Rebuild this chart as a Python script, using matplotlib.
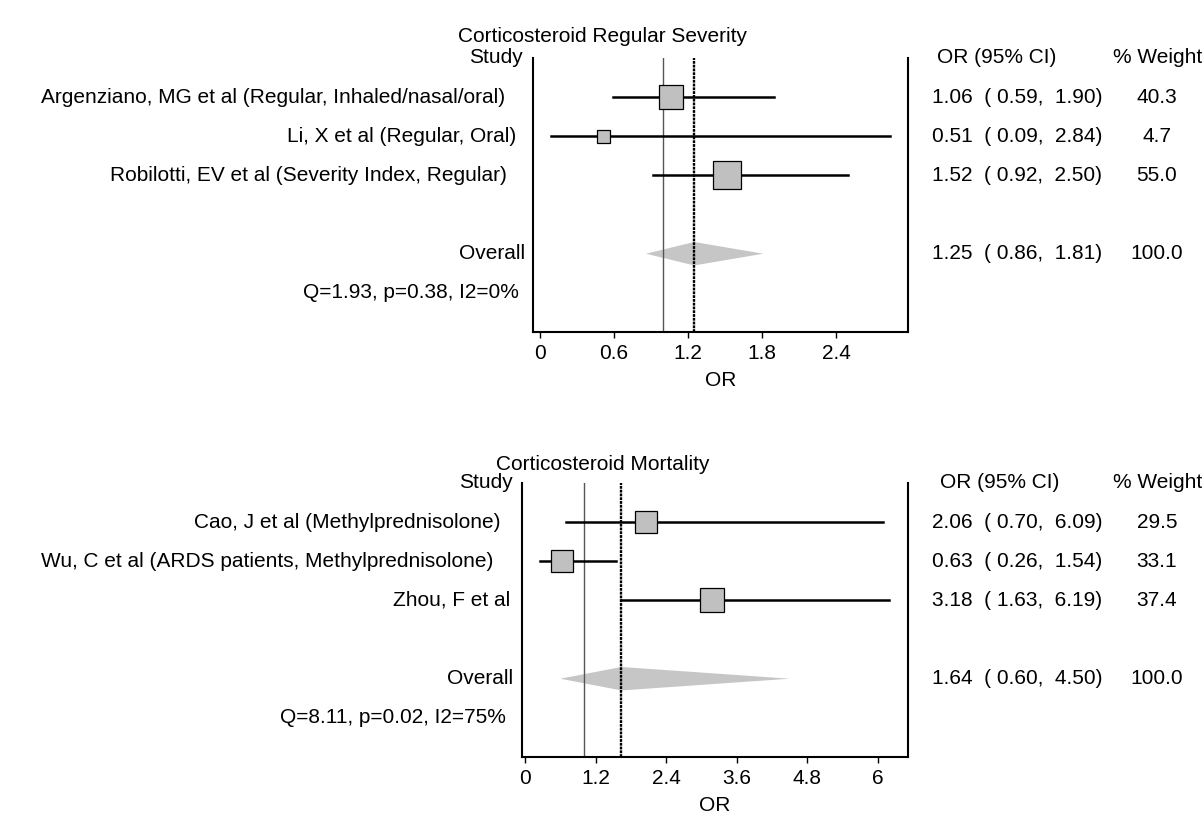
import numpy as np
import matplotlib
matplotlib.use("Agg")
import matplotlib.pyplot as plt
from matplotlib.transforms import blended_transform_factory

plt.rcParams['font.family'] = ['Liberation Sans', 'DejaVu Sans']

## data ##

# corticosteroid regular severity
sev_title = "Corticosteroid Regular Severity"
sev_studies = ["Argenziano, MG et al (Regular, Inhaled/nasal/oral)",
               "Li, X et al (Regular, Oral)",
               "Robilotti, EV et al (Severity Index, Regular)"]
sev_or = [1.06, 0.51, 1.52]
sev_lo = [0.59, 0.09, 0.92]
sev_hi = [1.90, 2.84, 2.50]
sev_wt = [40.3, 4.7, 55.0]
sev_pool = [1.25, 0.86, 1.81]
sev_het = "Q=1.93, p=0.38, I2=0%"
sev_ticks = [0, 0.6, 1.2, 1.8, 2.4]
sev_ticklabels = ["0", "0.6", "1.2", "1.8", "2.4"]

# corticosteroid mortality
mor_title = "Corticosteroid Mortality"
mor_studies = ["Cao, J et al (Methylprednisolone)",
               "Wu, C et al (ARDS patients, Methylprednisolone)",
               "Zhou, F et al"]
mor_or = [2.06, 0.63, 3.18]
mor_lo = [0.70, 0.26, 1.63]
mor_hi = [6.09, 1.54, 6.19]
mor_wt = [29.5, 33.1, 37.4]
mor_pool = [1.64, 0.60, 4.50]
mor_het = "Q=8.11, p=0.02, I2=75%"
mor_ticks = [0, 1.2, 2.4, 3.6, 4.8, 6]
mor_ticklabels = ["0", "1.2", "2.4", "3.6", "4.8", "6"]

W, H = 1202, 827
FS = 15

fig = plt.figure(figsize=(W / 100, H / 100), dpi=100)


def px(x, y):
    return x / W, 1 - y / H


def panel(rect, xlim, title, title_xy, studies, ors, los, his, wts, pool, het,
          ticks, ticklabels, label_ends, col_or_x):
    l, t, r, b = rect
    ax = fig.add_axes([l / W, 1 - b / H, (r - l) / W, (b - t) / H])
    ax.set_xlim(xlim)
    ax.set_ylim(7, 0)
    ax.spines['top'].set_visible(False)
    for s in ['left', 'right', 'bottom']:
        ax.spines[s].set_linewidth(1.5)
    ax.set_yticks([])
    ax.set_xticks(ticks)
    ax.set_xticklabels(ticklabels, fontsize=FS)
    ax.tick_params(axis='x', direction='out', length=4, width=1, pad=4.5)
    ax.set_xlabel("OR", fontsize=FS, labelpad=6)

    nrow = len(studies)
    rows = np.arange(1, nrow + 1)
    pool_row = nrow + 2
    het_row = nrow + 3

    # pooled diamond
    est, plo, phi = pool
    ax.fill([plo, est, phi, est], [pool_row, pool_row - 0.3, pool_row, pool_row + 0.3],
            color='#c6c6c6', lw=0, zorder=1)

    # null and pooled lines
    ax.axvline(1, color='#555555', lw=1, zorder=2)
    ax.axvline(est, color='black', lw=1.7, ls=(0, (1.2, 0.4)), zorder=2)

    # study CIs and boxes
    for i in range(nrow):
        ax.plot([los[i], his[i]], [rows[i], rows[i]], color='black', lw=1.8, zorder=3)
        size = max(3.9 * np.sqrt(wts[i]), 13) * 0.72
        ax.plot(ors[i], rows[i], marker='s', ms=size, mfc='#c0c0c0', mec='black',
                mew=0.9, zorder=4)

    # left labels
    tr = blended_transform_factory(fig.transFigure, ax.transData)
    left_txt = ["Study"] + studies + ["Overall", het]
    left_rows = [0] + list(rows) + [pool_row, het_row]
    for txt, row, xe in zip(left_txt, left_rows, label_ends):
        ax.text(xe / W, row, txt, transform=tr, ha='right', va='center', fontsize=FS)

    # right columns
    ax.text(col_or_x / W, 0, "OR (95% CI)", transform=tr, ha='left', va='center', fontsize=FS)
    ax.text(1113 / W, 0, "% Weight", transform=tr, ha='left', va='center', fontsize=FS)
    vals = list(zip(ors, los, his)) + [tuple(pool)]
    wlab = ["%.1f" % w for w in wts] + ["100.0"]
    for (o, a, c), wl, row in zip(vals, wlab, list(rows) + [pool_row]):
        ax.text(932 / W, row, "%.2f  (%5.2f,  %.2f)" % (o, a, c), transform=tr,
                ha='left', va='center', fontsize=FS)
        ax.text(1157 / W, row, wl, transform=tr, ha='center', va='center', fontsize=FS)

    fig.text(*px(*title_xy), title, ha='center', va='center', fontsize=FS)
    return ax


panel((533, 58, 908, 332), (-0.057, 2.984), sev_title, (602, 37),
      sev_studies, sev_or, sev_lo, sev_hi, sev_wt, sev_pool, sev_het,
      sev_ticks, sev_ticklabels, [523, 505, 516, 507, 525, 519], 937)

panel((522, 483, 908, 757), (-0.051, 6.51), mor_title, (603, 464),
      mor_studies, mor_or, mor_lo, mor_hi, mor_wt, mor_pool, mor_het,
      mor_ticks, mor_ticklabels, [513, 500, 493, 510, 513, 506], 940)

fig.savefig("out.png", dpi=100)
